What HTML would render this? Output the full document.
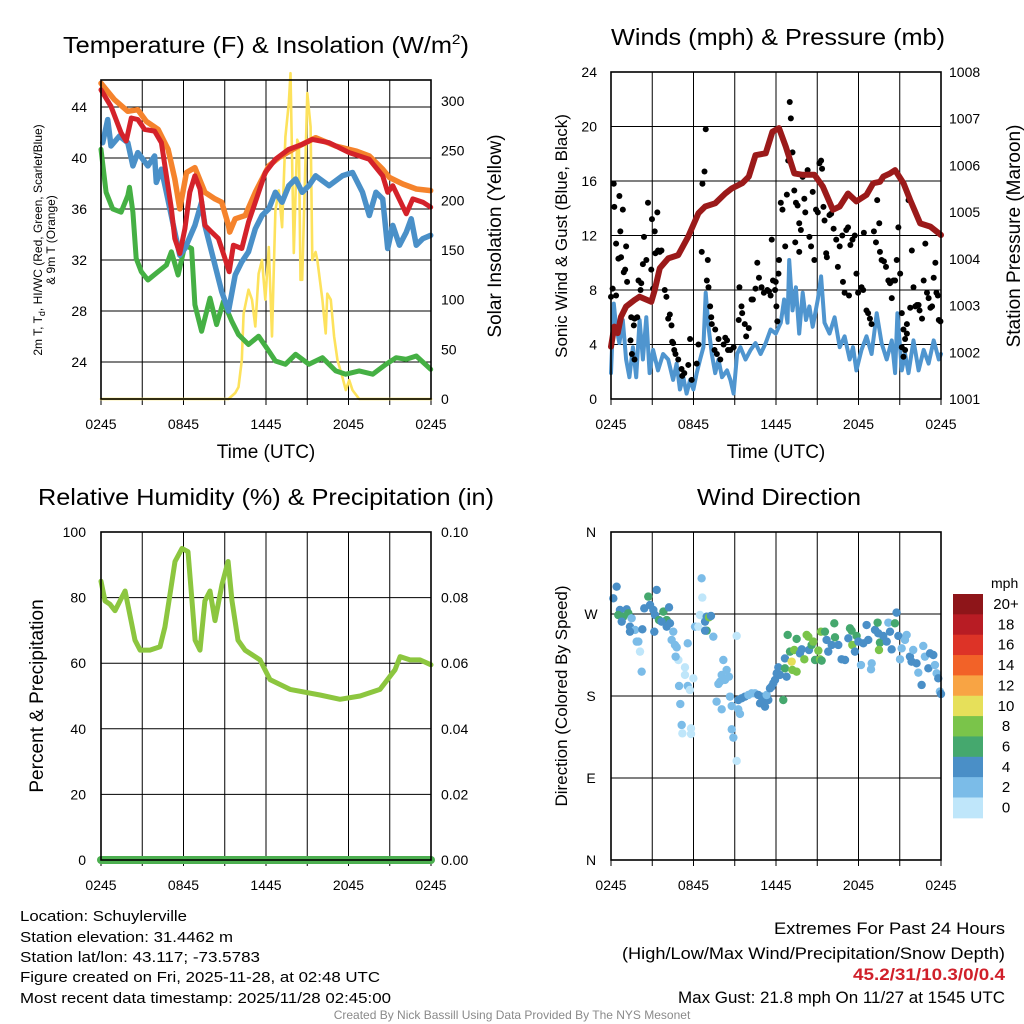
<!DOCTYPE html>
<html><head><meta charset="utf-8"><style>
html,body{margin:0;padding:0;background:#fff}
svg{display:block;font-family:"Liberation Sans",Arial,sans-serif}
</style></head><body>
<svg id="root" xmlns="http://www.w3.org/2000/svg" width="1024" height="1024" viewBox="0 0 1024 1024">
<rect width="1024" height="1024" fill="#fff"/>
<g id="p1"></g>
<g id="p2"></g>
<g id="p3"></g>
<g id="p4"></g>

<text x="266" y="53" font-size="23" text-anchor="middle" textLength="406" lengthAdjust="spacingAndGlyphs">Temperature (F) &amp; Insolation (W/m<tspan dy="-9" font-size="14">2</tspan><tspan dy="9">)</tspan></text>
<text x="778" y="45" font-size="23" text-anchor="middle" textLength="334" lengthAdjust="spacingAndGlyphs">Winds (mph) &amp; Pressure (mb)</text>
<text x="266" y="505" font-size="23" text-anchor="middle" textLength="456" lengthAdjust="spacingAndGlyphs">Relative Humidity (%) &amp; Precipitation (in)</text>
<text x="779" y="505" font-size="23" text-anchor="middle" textLength="164" lengthAdjust="spacingAndGlyphs">Wind Direction</text>

<text x="266" y="458" font-size="19" text-anchor="middle">Time (UTC)</text>
<text x="776" y="458" font-size="19" text-anchor="middle">Time (UTC)</text>
<text transform="translate(42,240) rotate(-90)" font-size="12" text-anchor="middle">2m T, T<tspan dy="3" font-size="9">d</tspan><tspan dy="-3">, HI/WC (Red, Green, Scarlet/Blue)</tspan></text>
<text transform="translate(55,240) rotate(-90)" font-size="12" text-anchor="middle">&amp; 9m T (Orange)</text>
<text transform="translate(501,236) rotate(-90)" font-size="19" text-anchor="middle">Solar Insolation (Yellow)</text>
<text transform="translate(567,236) rotate(-90)" font-size="17" text-anchor="middle">Sonic Wind &amp; Gust (Blue, Black)</text>
<text transform="translate(1020,236) rotate(-90)" font-size="19" text-anchor="middle">Station Pressure (Maroon)</text>
<text transform="translate(43,696) rotate(-90)" font-size="19" text-anchor="middle">Percent &amp; Precipitation</text>
<text transform="translate(567,696) rotate(-90)" font-size="17" text-anchor="middle">Direction (Colored By Speed)</text>

<g font-size="15">
<text x="20" y="921" textLength="167" lengthAdjust="spacingAndGlyphs">Location: Schuylerville</text>
<text x="20" y="942" textLength="213" lengthAdjust="spacingAndGlyphs">Station elevation: 31.4462 m</text>
<text x="20" y="962" textLength="240" lengthAdjust="spacingAndGlyphs">Station lat/lon: 43.117; -73.5783</text>
<text x="20" y="982" textLength="360" lengthAdjust="spacingAndGlyphs">Figure created on Fri, 2025-11-28, at 02:48 UTC</text>
<text x="20" y="1003" textLength="371" lengthAdjust="spacingAndGlyphs">Most recent data timestamp: 2025/11/28 02:45:00</text>
</g>
<g font-size="17" text-anchor="end">
<text x="1005" y="934" textLength="231" lengthAdjust="spacingAndGlyphs">Extremes For Past 24 Hours</text>
<text x="1005" y="959" textLength="383" lengthAdjust="spacingAndGlyphs">(High/Low/Max Wind/Precipitation/Snow Depth)</text>
<text x="1005" y="980" fill="#d0202a" font-weight="bold" textLength="152" lengthAdjust="spacingAndGlyphs">45.2/31/10.3/0/0.4</text>
<text x="1005" y="1003" textLength="327" lengthAdjust="spacingAndGlyphs">Max Gust: 21.8 mph On 11/27 at 1545 UTC</text>
</g>
<text x="512" y="1019" font-size="12" fill="#8a8a8a" text-anchor="middle">Created By Nick Bassill Using Data Provided By The NYS Mesonet</text>
</svg>
<script>
// ---------- DATA ----------
const orangeT=[0,.98,1.95,2.68,3.29,4.15,4.88,5.37,5.73,6.22,6.83,7.56,8.29,8.78,9.27,9.36,9.76,10.49,11.22,12.2,12.93,14.15,15.12,15.61,17.07,18.54,19.51,20.49,20.98,21.95,22.93,23.98];
const orangeV=[45.87,44.57,43.66,43.79,42.88,42.24,40.68,38.35,36.01,38.86,39.25,37.31,36.79,36.53,34.71,34.19,35.23,35.49,37.31,39.38,40.03,40.81,41.33,41.59,40.94,40.55,40.16,39.12,38.47,37.96,37.57,37.44];
const redT=[0,.73,1.46,1.83,2.2,2.68,3.17,3.9,4.39,4.76,5.12,5.37,5.73,6.1,6.46,6.83,7.2,7.56,8.05,8.54,9.02,9.32,9.63,10.24,10.73,11.22,11.95,12.68,13.66,14.63,15.37,16.59,18.05,19.51,20.49,20.85,21.22,22.2,22.68,23.41,23.98];
const redV=[45.35,44.05,41.98,41.33,43.14,43.01,42.24,42.11,41.2,38.6,36.01,33.68,32.51,34.45,37.31,38.6,37.57,34.71,34.19,33.68,32.12,31.08,33.16,32.9,34.97,36.53,38.86,39.9,40.68,41.07,41.46,41.2,40.42,39.9,38.6,37.31,37.83,35.62,36.79,36.53,36.14];
const blueT=[.12,.49,.73,1.34,1.95,2.32,2.68,3.41,3.9,4.02,4.39,4.76,5.37,5.73,6.1,6.83,7.32,7.56,8.17,8.78,9.27,9.76,10.24,10.73,11.22,11.71,12.2,12.68,13.17,13.66,14.15,14.63,15.12,15.61,16.59,17.56,18.29,19.02,19.51,20,20.49,20.85,21.22,21.71,22.2,22.56,22.93,23.41,23.98];
const blueV=[41.2,43.01,40.94,41.72,41.2,39.38,40.42,39.38,40.16,38.09,39.12,37.31,34.19,32.38,32.9,34.71,36.53,34.71,32.12,29.52,28,30.82,31.86,32.64,34.45,35.49,36.01,37.31,36.53,37.83,38.35,37.31,37.83,38.6,37.83,38.6,38.86,37.31,35.49,37.31,36.79,32.9,34.71,33.16,34.19,35.23,33.16,33.68,33.94];
const greenT=[0,.37,.85,1.46,1.95,2.07,2.32,2.56,2.93,3.41,4.15,4.76,5.12,5.61,6.1,6.59,6.83,7.32,7.93,8.41,8.9,9.51,10,10.73,11.46,12.2,12.68,13.41,14.15,15.12,16.1,17.07,17.8,18.78,19.76,20.73,21.46,22.2,22.93,23.98];
const greenV=[40.68,37.31,36.01,35.75,37.05,37.7,35.75,32.12,31.08,30.43,31.08,31.6,32.64,30.82,33.16,32.9,28.49,26.41,29.01,26.93,28.75,27.19,26.15,25.37,26.02,24.86,24.08,23.82,24.6,23.82,24.34,23.3,23.04,23.3,23.04,23.82,24.34,24.21,24.47,23.43];
const solarT=[0,9.27,9.76,10,10.24,10.37,10.73,10.98,11.22,11.46,11.71,11.95,12.2,12.44,12.68,12.93,13.17,13.41,13.66,13.78,14.02,14.27,14.39,14.51,14.63,15,15.24,15.37,15.61,15.73,16.1,16.34,16.46,16.71,16.95,17.2,17.56,17.8,18.05,18.29,18.78,24];
const solarV=[0,0,6,12,39,86,110,100,73,126,140,100,153,63,190,210,173,264,298,328,147,261,257,120,120,308,274,140,148,140,100,66,106,100,63,39,22,9,19,9,0,0];
const pressT=[0,.24,.49,.73,1.1,1.71,2.08,2.93,3.18,3.55,4.16,4.89,5.62,6.36,6.85,7.58,8.31,8.8,9.54,10.02,10.51,11.25,11.74,12.22,12.71,13.33,13.94,14.79,15.4,16.14,16.63,17.24,17.85,18.58,19.07,19.56,19.8,20.29,20.66,21.27,21.76,22.49,23.23,24];
const pressV=[1002.12,1002.55,1002.41,1002.76,1002.98,1003.12,1003.19,1003.08,1003.33,1003.8,1004.01,1004.08,1004.48,1004.98,1005.12,1005.19,1005.4,1005.51,1005.62,1005.76,1006.22,1006.26,1006.72,1006.8,1006.4,1005.83,1005.8,1005.8,1005.55,1005.05,1005.12,1005.4,1005.23,1005.37,1005.62,1005.65,1005.76,1005.83,1005.9,1005.62,1005.26,1004.76,1004.69,1004.51];
const windT=[0,.2,.37,.61,.86,1.1,1.34,1.59,1.83,2.08,2.32,2.57,2.81,3.06,3.42,3.79,4.16,4.52,4.77,5.01,5.26,5.5,5.75,5.99,6.23,6.48,6.72,6.89,7.09,7.33,7.58,7.82,8.07,8.44,8.68,8.92,9.17,9.41,9.78,10.15,10.51,10.88,11.25,11.61,11.98,12.35,12.59,12.84,12.96,13.2,13.45,13.69,13.94,14.18,14.43,14.67,15.04,15.28,15.53,15.89,16.26,16.63,16.99,17.36,17.6,17.85,18.22,18.58,18.95,19.32,19.68,20.05,20.42,20.66,20.83,21.15,21.39,21.64,22,22.37,22.74,23.1,23.47,23.84,24];
const windV=[1.9,7,5.3,4.1,5.8,2.9,1.6,3.8,1.6,5.8,2.9,6,1.9,3.6,2.1,3.3,2.9,1.4,2.6,.7,1.6,.4,1.4,.7,1.9,2.9,3.8,7.8,5.3,3.3,1.9,2.9,1.6,2.1,1.4,.4,3.3,3.8,2.9,3.6,4.1,3.3,4.1,5.1,4.8,5.6,7.3,5.6,10.2,6.5,8.2,4.8,7.8,5.8,6.8,5.3,7.3,9,5.6,4.8,6,3.8,4.6,2.9,3.8,2.1,3.6,4.6,3.3,6.3,4.1,2.9,4.3,1.9,6.3,2.1,3.3,1.9,4.3,2.1,3.6,2.6,4.3,2.9,3.3];
const gustT=[.2,.24,.61,.86,.68,.37,.54,.73,.93,1.03,1.17,1.1,0,.12,.37,1.47,1.66,1.71,1.42,1.52,1.71,1.91,2,2.2,2.32,2.15,2.4,2.57,2.69,2.98,3.18,3.37,3.23,3.42,3.55,3.67,2.93,3.06,3.91,4.03,4.16,4.28,4.4,4.45,4.52,4.6,4.69,4.89,5.13,5.33,5.18,5.62,5.75,5.87,6.23,6.36,6.6,6.65,6.8,6.89,7.04,6.97,7.09,7.21,7.29,7.33,7.58,7.82,7.53,7.7,7.95,8.19,8.44,8.51,8.31,8.68,8.92,9.29,9.34,9.49,9.54,9.73,9.83,10.02,10.22,10.32,10.51,10.64,10.76,10.95,11.12,11.37,11.49,11.61,11.69,11.78,11.93,12.03,12.1,11.98,12.18,12.22,12.35,12.47,12.67,12.79,12.89,13,13.08,13.2,13.33,13.45,13.57,13.69,13.81,13.4,13.69,13.94,14.06,14.13,14.3,14.43,14.55,14.67,14.79,14.91,15.04,15.16,15.28,15.35,15.45,15.53,15.65,15.7,15.89,16.01,16.19,16.38,16.5,16.63,16.82,16.87,16.99,17.11,17.24,17.31,17.41,17.56,17.73,17.85,17.97,18.22,18.34,18.39,18.58,18.7,18.83,18.95,19.12,19.27,19.36,19.51,19.56,19.68,19.85,20,20.17,20.29,20.42,20.54,20.66,20.78,20.9,21.03,21.15,21.27,21.39,21.52,21.64,21.76,21.88,22,22.13,22.25,22.37,22.44,22.62,22.74,22.86,22.98,23.1,23.23,23.35,23.47,23.59,23.67,23.77,23.84,23.96,21.15,21.27,21.39,21.52];
const gustV=[15.8,14.1,14.9,13.9,12.3,11.4,10.3,10.4,9.3,9.5,8.6,11.2,7.5,8.1,7.6,6,5.4,5.9,4.3,3.3,2.9,6,8.7,8.5,9.9,8,11.9,10.2,14.4,13.2,12.3,13.7,10.7,10.9,10.8,10.9,9.5,8.1,8,7.5,5.9,6.2,5.4,4.2,4.1,3.6,3.3,2.9,2.2,1.9,1.7,2.5,4.4,1.4,2.6,4,10.8,15.8,16.7,19.8,10.2,8.7,8.2,6.8,6,5.5,5.1,4.4,3.6,3.3,2.9,4,4.3,3.6,4.5,3.6,3.8,5.8,8.2,6.8,6.3,5.5,4.6,5.2,7.3,7.3,8.1,10,8.9,8.2,7.8,8,7.9,7.6,11.7,8.7,8,6.8,5.7,8.6,9.2,10.2,14.4,13.9,11.2,15,17.5,21.8,20.6,18.1,15.3,14.4,14.2,12.9,12.4,11.5,10.8,16.3,14.7,13.7,16.8,11.9,11.2,15.2,10.2,13.9,13.7,17.3,17.5,16.9,14.1,13.1,10.7,10.4,13.5,13.6,12.5,11.7,9.7,11.2,12,8.6,7.8,12.4,12.6,7.6,11.3,11.7,12,9.2,7.8,8.2,8,12.2,6.5,6.3,5.9,5.5,12.3,11.5,14.6,12.9,10.8,10.2,10.1,9.7,8.7,8.5,7.4,8.7,8.7,10.2,12.6,9.2,6.3,5.1,4.4,5.5,14.6,6.7,10.9,8.2,6.8,6.9,6.9,6.5,5.9,8.7,11.4,7.8,7.4,6.7,6.8,8.9,10,7.8,7.6,5.8,5.7,3.8,3.1,3.6,4.8];
const rhT=[0,.29,.65,1.02,1.38,1.75,2.47,2.84,3.56,4.29,4.65,5.02,5.38,5.89,6.33,6.62,6.84,7.2,7.56,7.93,8.29,8.8,9.24,9.53,9.96,10.47,11.56,12.29,13.75,15.93,17.38,18.84,20.29,21.38,21.75,22.47,23.2,24];
const rhV=[85,79,78,76,79,82,67,64,64,65,71,81,91,95,94,79,67,64,79,82,73,84,91,79,67,64,61,55,52,50.3,49,50,52,58,62,61,61,59.5];
const precipT=[0,24];
const precipV=[0,0];
const dirT=[.41,.17,.65,1.14,.53,.9,1.26,.78,1.38,1.5,1.75,1.38,1.99,1.87,2.11,2.28,2.23,2.71,2.42,2.84,3.08,3.32,3.2,3.49,3.81,4.05,3.68,3.15,4.22,4.29,4.05,4.53,4.41,4.65,4.78,4.9,4.7,5.38,5.58,4.95,5.38,5.58,5.74,5.99,5.04,5.14,5.19,5.82,5.82,6.11,6.47,6.59,6.64,6.84,6.96,7.13,7.27,6.96,7.44,6.35,6.84,8.17,8.41,8.05,7.93,8.29,8.58,7.81,8.65,7.68,8.05,8.78,9.14,9.26,9.38,8.78,8.9,9.14,9.26,9.5,9.74,9.99,10.23,10.47,10.71,10.96,11.2,10.84,11.08,11.44,11.32,11.56,11.68,11.8,11.93,12.05,12.17,12.29,12.53,12.77,12.65,12.85,12.65,13.02,13.14,13.19,13.5,13.33,13.5,13.74,13.87,14.06,14.23,14.35,14.4,14.59,14.71,14.84,15.08,15.2,15.32,15.27,15.56,15.68,15.8,16.05,16.24,16.29,16.53,16.77,17.02,17.26,17.38,17.5,17.55,17.74,17.86,17.99,18.18,18.35,18.59,18.71,18.96,18.91,19.2,19.39,19.44,19.56,19.49,19.8,20.05,20.17,20.41,20.29,20.77,20.65,20.9,21.14,21.02,21.38,21.5,21.74,21.86,21.98,22.22,22.35,22.59,22.71,22.83,23.08,23.2,23.44,23.56,23.68,23.8,23.92,24];
const dirV=[300,287.2,274.4,275.1,268.9,267.1,270.8,261.6,256.1,265.3,252.5,250.6,239.7,239.7,228.7,253.2,206.7,289.1,276.2,279.9,274.4,296.4,268.9,263.4,272.6,263.4,261.6,250.6,277.3,259.8,256.1,250.6,241.5,236,233.4,219.5,223.2,211.5,237.8,191,203.1,191,186.6,199.4,171.2,148.2,139,144.5,138.3,256.1,268.9,309.2,288,261.6,267.1,266.4,267.8,251.7,245.1,256.1,251.7,219.5,208.6,203.1,195.7,197.6,201.2,193.2,179.3,173.8,165.4,169,245.9,165.4,160.3,143.4,134.3,108.7,175.6,177.5,179.3,181.1,182.9,182.9,181.1,179.3,168.3,172,175.6,175.6,181.1,188.4,190.3,193.9,197.6,204.9,211.5,203.1,175.6,201.2,210.4,247,221.2,228.7,217.7,208.6,206.7,230.5,242.6,226.8,231.2,220.3,247,245.1,230.5,236,239.7,219.5,229.8,220.3,218.8,250.6,250.6,241.5,228.7,236,259.8,244.4,236,220.3,219.5,243.3,254.3,251.7,236,228.7,245.9,239.7,214,237.8,257.9,241.5,215.9,209.3,252.5,260.5,248.8,238.6,230.5,245.9,239.7,260.5,231.2,250.6,271.5,259.8,245.9,232.3,220.3,241.5,247,223.2,217.7,230.5,215.9,205.6,192.1,234.9,223.2,210.4,226.8,225,214,204.9,199.4,184.8,182.2];
const dirS=[3.8,3.8,3.8,3.8,6,6,6,3.8,3.8,2.2,2.2,3.8,2.2,2.2,0.8,3.8,2.2,6,3.8,3.8,3.8,3.8,3.8,6,6,6,3.8,3.8,3.8,3.8,3.8,2.2,2.2,2.2,2.2,0.8,2.2,0.8,2.2,2.2,0.8,2.2,0.8,0.8,2.2,2.2,0.8,0.8,0.8,2.2,0.8,2.2,0.8,3.8,3.8,7.8,3.8,6,2.2,0.8,3.8,2.2,2.2,2.2,2.2,2.2,2.2,2.2,2.2,2.2,2.2,2.2,0.8,2.2,2.2,2.2,2.2,0.8,3.8,3.8,3.8,2.2,2.2,2.2,3.8,3.8,3.8,3.8,3.8,3.8,2.2,3.8,3.8,3.8,3.8,3.8,3.8,3.8,6,3.8,6,6,3.8,6,10,7.8,7.8,7.8,6,3.8,3.8,7.8,7.8,7.8,3.8,6,7.8,6,7.8,7.8,6,7.8,6,3.8,3.8,3.8,6,6,3.8,3.8,3.8,3.8,6,6,7.8,3.8,6,3.8,2.2,3.8,3.8,3.8,2.2,2.2,3.8,6,3.8,6,7.8,3.8,3.8,2.2,3.8,3.8,3.8,6,3.8,2.2,2.2,2.2,2.2,3.8,3.8,2.2,3.8,2.2,3.8,2.2,2.2,3.8,3.8,3.8,2.2,2.2,3.8,2.2,3.8,2.2];
const timeTicks=["0245","0845","1445","2045","0245"];
const tempTicks=[24,28,32,36,40,44];
const solarTicks=[0,50,100,150,200,250,300];
const windTicks=[0,4,8,12,16,20,24];
const pressTicks=[1001,1002,1003,1004,1005,1006,1007,1008];
const rhTicks=[0,20,40,60,80,100];
const precipTicks=["0.00","0.02","0.04","0.06","0.08","0.10"];
const dirTicks=["N","E","S","W","N"];
const cbLabels=["20+","18","16","14","12","10","8","6","4","2","0"];
const cbColors=["#8e1519","#b81c24","#dd3327","#f26228","#f8a444","#e6e05a","#7ac44a","#45a86e","#4a8fc7","#7bbce8","#bfe6fa"];

// ---------- DRAW ----------
const NS="http://www.w3.org/2000/svg";
function mk(parent,tag,attrs,txt){const el=document.createElementNS(NS,tag);for(const k in attrs)el.setAttribute(k,attrs[k]);if(txt!==undefined)el.textContent=txt;parent.appendChild(el);return el;}
function lin(d0,d1,r0,r1){return v=>r0+(v-d0)/(d1-d0)*(r1-r0);}

function frame(g,L,T,R,B){
  for(let i=0;i<=8;i++){const x=L+(R-L)*i/8;
    const gl=mk(g,'line',{x1:x,x2:x,y1:T,y2:B,stroke:'#000','stroke-width':1});
    
    
    const tk=mk(g,'line',{x1:x,x2:x,y1:B,y2:B+6,stroke:'#000','stroke-width':1});
    
    }
  for(let j=0;j<timeTicks.length;j++){const x=L+(R-L)*j/4;
    const t=mk(g,'text',{x:x,y:B+30,'font-size':14,'text-anchor':'middle'},timeTicks[j]);
    
    }
}
function hgrid(g,L,R,y){const l=mk(g,'line',{x1:L,x2:R,y1:y,y2:y,stroke:'#000','stroke-width':1});
  
  }
function border(g,L,T,R,B){const r=mk(g,'rect',{x:L,y:T,width:R-L,height:B-T,fill:'none',stroke:'#000','stroke-width':1.6});
  
  }
function path(g,xs,ys,sx,sy,color,w){let d='';for(let i=0;i<xs.length;i++)d+=(i?'L':'M')+sx(xs[i]).toFixed(1)+' '+sy(ys[i]).toFixed(1);
  return mk(g,'path',{d:d,fill:'none',stroke:color,'stroke-width':w,'stroke-linejoin':'round','stroke-linecap':'round'});}
function lab(g,x,y,s,anchor){const t=mk(g,'text',{x:x,y:y,'font-size':14,'text-anchor':anchor},s);
  
  }

(function(){const g=document.getElementById('p1');const L=101,R=431,T=80,B=399;
  const sx=lin(0,24,L,R), sy=lin(24,44,362,107), sr=lin(0,300,399,101);
  frame(g,L,T,R,B);
  tempTicks.forEach(v=>{hgrid(g,L,R,sy(v));lab(g,87,sy(v)+5,v,'end');});
  solarTicks.forEach(v=>{lab(g,441,sr(v)+5,v,'start');});
  let p=path(g,solarT,solarV,sx,sr,'#fde25c',2.6);
  
  
  p=path(g,greenT,greenV,sx,sy,'#45b044',5);
  
  
  p=path(g,orangeT,orangeV,sx,sy,'#f5832c',5.5);
  
  
  p=path(g,blueT,blueV,sx,sy,'#4a90c8',5.5);
  
  
  p=path(g,redT,redV,sx,sy,'#d4222a',5);
  
  
  border(g,L,T,R,B);})();

(function(){const g=document.getElementById('p2');const L=611,R=941,T=72,B=399;
  const sx=lin(0,24,L,R), sy=lin(0,24,B,T), sp=lin(1001,1008,B,T);
  frame(g,L,T,R,B);
  windTicks.forEach(v=>{hgrid(g,L,R,sy(v));lab(g,597,sy(v)+5,v,'end');});
  pressTicks.forEach(v=>{lab(g,949,sp(v)+5,v,'start');});
  let p=path(g,windT,windV,sx,sy,'#4f95cf',4);
  
  
  for(let i=0;i<gustT.length;i++){const c=mk(g,'circle',{cx:sx(gustT[i]),cy:sy(gustV[i]),r:3,fill:'#000'});
    
    }
  p=path(g,pressT,pressV,sx,sp,'#9b1a1a',6);
  
  
  border(g,L,T,R,B);})();

(function(){const g=document.getElementById('p3');const L=101,R=431,T=532,B=860;
  const sx=lin(0,24,L,R), sy=lin(0,100,B,T), sp=lin(0,0.1,B,T);
  frame(g,L,T,R,B);
  rhTicks.forEach(v=>{hgrid(g,L,R,sy(v));lab(g,86,sy(v)+5,v,'end');});
  precipTicks.forEach(v=>{lab(g,441,sp(+v)+5,v,'start');});
  let p=path(g,rhT,rhV,sx,sy,'#8cc63f',5);
  
  
  p=path(g,precipT,precipV,sx,sp,'#4caf50',8);
  
  
  border(g,L,T,R,B);})();

(function(){const g=document.getElementById('p4');const L=611,R=941,T=532,B=860;
  const sx=lin(0,24,L,R), sy=lin(0,360,B,T);
  frame(g,L,T,R,B);
  dirTicks.forEach((v,i)=>{const y=sy(i*90);hgrid(g,L,R,y);lab(g,591,y+5,v,'middle');});
  for(let i=0;i<dirT.length;i++){const s=(dirS[i]===undefined)?3.8:dirS[i];
    const k=Math.max(0,Math.min(10,Math.floor((s+1)/2)));
    const c=mk(g,'circle',{cx:sx(dirT[i]),cy:sy(dirV[i]),r:4.2,fill:cbColors[10-k]});
    
    }
  border(g,L,T,R,B);
  const cb=mk(g,'g',{});
  
  
  const t=mk(cb,'text',{x:991,y:588,'font-size':14},'mph');
  
  
  const h=20.35;
  for(let i=0;i<cbColors.length;i++){
    const r=mk(cb,'rect',{x:953,y:594+i*h,width:30,height:h+0.5,fill:cbColors[i]});
    
    
    const l=mk(cb,'text',{x:1006,y:594+i*h+15,'font-size':15,'text-anchor':'middle'},cbLabels[i]);
    
    }
})();
</script>
</body></html>
